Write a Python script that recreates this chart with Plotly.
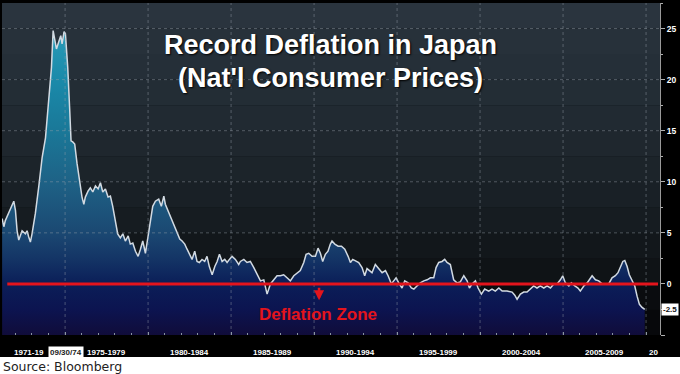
import plotly.graph_objects as go

# ---------------- data ----------------
years = [1971.21, 1971.31, 1971.40, 1971.61, 1971.81, 1971.91, 1972.01, 1972.11, 1972.21, 1972.31,
         1972.41, 1972.61, 1972.71, 1972.81, 1972.91, 1973.01, 1973.21, 1973.42, 1973.62, 1973.82,
         1974.02, 1974.18, 1974.28, 1974.36, 1974.48, 1974.62, 1974.74, 1974.82, 1974.94, 1975.02,
         1975.16, 1975.28, 1975.36, 1975.46, 1975.58, 1975.72, 1975.86, 1976.02, 1976.13, 1976.22,
         1976.39, 1976.52, 1976.67, 1976.83, 1976.99, 1977.13, 1977.27, 1977.43, 1977.59, 1977.73,
         1977.87, 1978.03, 1978.17, 1978.33, 1978.48, 1978.63, 1978.80, 1978.93, 1979.08, 1979.24,
         1979.40, 1979.54, 1979.68, 1979.84, 1980.00, 1980.14, 1980.28, 1980.44, 1980.64, 1980.80,
         1980.95, 1981.04, 1981.21, 1981.34, 1981.55, 1981.75, 1981.91, 1982.05, 1982.21, 1982.35,
         1982.51, 1982.65, 1982.81, 1982.95, 1983.09, 1983.25, 1983.41, 1983.55, 1983.69, 1983.86,
         1984.02, 1984.16, 1984.30, 1984.46, 1984.62, 1984.76, 1984.90, 1985.06, 1985.26, 1985.46,
         1985.56, 1985.77, 1985.96, 1986.16, 1986.37, 1986.57, 1986.77, 1986.97, 1987.17, 1987.37,
         1987.57, 1987.77, 1987.97, 1988.17, 1988.37, 1988.57, 1988.78, 1988.98, 1989.17, 1989.38,
         1989.52, 1989.68, 1989.88, 1990.08, 1990.24, 1990.38, 1990.52, 1990.68, 1990.84, 1990.98,
         1991.08, 1991.25, 1991.45, 1991.65, 1991.85, 1992.05, 1992.19, 1992.33, 1992.53, 1992.69,
         1992.89, 1993.05, 1993.19, 1993.33, 1993.49, 1993.69, 1993.90, 1994.10, 1994.30, 1994.46,
         1994.66, 1994.80, 1994.94, 1995.10, 1995.30, 1995.46, 1995.66, 1995.86, 1996.01, 1996.20,
         1996.40, 1996.61, 1996.81, 1997.01, 1997.21, 1997.35, 1997.51, 1997.71, 1997.87, 1998.01,
         1998.21, 1998.41, 1998.61, 1998.81, 1999.02, 1999.22, 1999.36, 1999.52, 1999.72, 1999.88,
         2000.08, 2000.28, 2000.52, 2000.72, 2000.92, 2001.13, 2001.33, 2001.63, 2001.93, 2002.09,
         2002.23, 2002.43, 2002.63, 2002.83, 2003.03, 2003.23, 2003.43, 2003.63, 2003.84, 2004.04,
         2004.24, 2004.44, 2004.64, 2004.84, 2004.98, 2005.14, 2005.35, 2005.50, 2005.71, 2005.90,
         2006.04, 2006.25, 2006.45, 2006.59, 2006.75, 2006.95, 2007.15, 2007.35, 2007.55, 2007.75,
         2007.95, 2008.15, 2008.31, 2008.45, 2008.60, 2008.72, 2008.86, 2008.99, 2009.16, 2009.32,
         2009.46, 2009.60, 2009.76, 2009.92]

cpi = [6.4, 5.6, 6.2, 7.0, 7.6, 8.1, 7.2, 5.2, 4.3, 4.8,
       5.2, 4.9, 5.2, 4.6, 4.1, 4.9, 6.9, 9.6, 12.4, 14.3,
       17.9, 21.2, 24.8, 24.2, 23.0, 23.7, 24.3, 23.5, 24.7, 24.5,
       21.2, 17.0, 14.0, 13.9, 13.7, 11.8, 10.1, 8.5, 7.8, 8.5,
       9.1, 9.4, 9.0, 9.6, 9.3, 9.9, 9.0, 9.3, 8.5, 8.6,
       7.6, 6.2, 4.9, 4.5, 4.9, 4.2, 4.7, 3.9, 4.0, 3.2,
       2.7, 3.4, 4.2, 3.0, 4.7, 6.5, 7.6, 8.1, 8.3, 7.6,
       8.6, 7.8, 7.1, 6.7, 5.7, 5.0, 4.4, 4.2, 3.9, 3.4,
       2.9, 2.4, 3.2, 2.2, 2.1, 2.4, 2.2, 2.7, 1.7, 0.9,
       1.7, 2.2, 2.9, 2.2, 2.4, 2.1, 2.4, 2.7, 2.4, 1.9,
       2.2, 2.4, 2.1, 2.2, 1.6, 0.9, 0.3, 0.4, -1.0, 0.0,
       0.4, 0.8, 0.8, 0.9, 0.6, 0.3, 0.8, 1.1, 1.3, 2.1,
       2.9, 3.0, 2.7, 2.7, 3.5, 3.0, 2.2, 2.9, 3.2, 3.9,
       4.2, 3.9, 3.7, 3.7, 3.4, 2.7, 2.1, 2.4, 2.2, 2.1,
       1.6, 0.8, 1.5, 1.3, 1.1, 1.9, 1.5, 1.1, 1.3, 0.8,
       0.0, 0.3, 0.6, 0.1, -0.4, 0.3, 0.1, -0.4, -0.5, -0.2,
       0.1, 0.3, 0.4, 0.6, 0.6, 1.6, 2.1, 2.2, 2.4, 2.1,
       1.9, 0.4, 0.1, 0.2, 0.8, 0.3, -0.4, 0.0, 0.3, -0.4,
       -1.0, -0.5, -0.7, -0.5, -0.7, -0.4, -0.7, -0.7, -0.8, -1.1,
       -1.5, -1.0, -0.8, -0.8, -0.5, -0.2, -0.4, -0.2, -0.4, -0.2,
       -0.4, 0.0, 0.0, 0.4, 0.8, 0.1, -0.2, 0.1, -0.2, -0.4,
       -0.7, -0.2, 0.1, 0.4, 0.8, 0.4, 0.3, 0.0, 0.0, 0.0,
       0.6, 0.8, 1.1, 1.6, 2.2, 2.3, 1.7, 0.9, 0.3, -0.2,
       -1.2, -2.0, -2.3, -2.5]

last_value_label = "-2.5"
y_tickvals = [-5, 0, 5, 10, 15, 20, 25]
y_ticktext = ["", "0", "5", "10", "15", "20", "25"]
y_minor = [-2.5, 2.5, 7.5, 12.5, 17.5, 22.5, 27.5]
grid_y = [5, 10, 15, 20, 25]
grid_x = [1975, 1980, 1985, 1990, 1995, 2000, 2005, 2010]
period_labels = ["1975-1979", "1980-1984", "1985-1989", "1990-1994",
                 "1995-1999", "2000-2004", "2005-2009"]
period_centers = [1977.5, 1982.5, 1987.5, 1992.5, 1997.5, 2002.5, 2007.5]
first_label, first_label_x = "1971-19", 1972.85
date_box, date_box_x = "09/30/74", 1975.05
last_partial, last_partial_x = "20", 2010.05

title1 = "Record Deflation in Japan"
title2 = "(Nat'l Consumer Prices)"
zone_text = "Deflation Zone"
source_text = "Source: Bloomberg"

Y0, Y1 = -5, 27.5
X0, X1 = 1971.2, 2010.84

# background band colours, from bottom band (-5..-2.5) up to top (25..27.5)
band_colors = ["#07080b", "#0a0c0f", "#0f1316", "#12171b", "#161c21", "#192026",
               "#1c242a", "#1f272e", "#212a32", "#232d35", "#252f38", "#27313a", "#2a343e"]

RED = "#e4141c"

fig = go.Figure()

# baseline for the area fill (bottom of the chart)
fig.add_trace(go.Scatter(x=years, y=[Y0] * len(years), mode="lines",
                         line=dict(width=0, color="rgba(0,0,0,0)"),
                         hoverinfo="skip", showlegend=False))
fig.add_trace(go.Scatter(
    x=years, y=cpi, mode="lines", fill="tonexty",
    line=dict(color="#d2dae2", width=1.5),
    fillgradient=dict(type="vertical", start=-5, stop=25,
                      colorscale=[[0.0, "#100c3a"], [0.083, "#0c1450"], [0.167, "#0b1e58"],
                                  [0.25, "#143566"], [0.333, "#1b4872"], [0.5, "#1e6286"],
                                  [0.667, "#1a7898"], [0.833, "#1a8aaa"], [1.0, "#2a9cb8"]]),
    showlegend=False, hoverinfo="skip"))

shapes = []
# background bands
for i, c in enumerate(band_colors):
    shapes.append(dict(type="rect", xref="paper", yref="y", x0=0, x1=1,
                       y0=Y0 + 2.5 * i, y1=Y0 + 2.5 * (i + 1),
                       fillcolor=c, line=dict(width=0), layer="below"))
# grid lines above the fill
for gy in grid_y:
    shapes.append(dict(type="line", xref="paper", yref="y", x0=0, x1=1, y0=gy, y1=gy,
                       line=dict(color="rgba(150,160,170,0.45)", width=1, dash="dot"),
                       layer="above"))
for gx in grid_x:
    shapes.append(dict(type="line", xref="x", yref="paper", x0=gx, x1=gx, y0=0, y1=1,
                       line=dict(color="rgba(150,160,170,0.45)", width=1, dash="dot"),
                       layer="above"))
# zero line
shapes.append(dict(type="line", xref="paper", yref="y", x0=0.008, x1=0.997, y0=0, y1=0,
                   line=dict(color=RED, width=3), layer="above"))
# white strip below the black label band
shapes.append(dict(type="rect", xref="paper", yref="paper", x0=-0.01, x1=1.04,
                   y0=-0.0663, y1=-0.14, fillcolor="white", line=dict(width=0), layer="below"))

annotations = [
    dict(text=title1, xref="paper", yref="paper", x=0.4985, y=0.8735, showarrow=False,
         xanchor="center", yanchor="middle",
         font=dict(family="Liberation Sans, Arial", size=27, color="white", weight="bold",
                   shadow="1px 1px 2px #000")),
    dict(text=title2, xref="paper", yref="paper", x=0.4985, y=0.774, showarrow=False,
         xanchor="center", yanchor="middle",
         font=dict(family="Liberation Sans, Arial", size=27, color="white", weight="bold",
                   shadow="1px 1px 2px #000")),
    dict(text=zone_text, x=1990.24, y=-2.95, showarrow=False, xanchor="center", yanchor="middle",
         font=dict(family="Liberation Sans, Arial", size=17, color=RED, weight="bold")),
    dict(text="", x=1990.3, y=-1.6, showarrow=True, ax=0, ay=-14, arrowhead=2, arrowsize=0.8,
         arrowwidth=2.5, arrowcolor=RED),
    dict(text=last_value_label, xref="paper", x=1.0015, y=-2.5, showarrow=False,
         xanchor="left", yanchor="middle", bgcolor="white", borderpad=1,
         font=dict(family="Liberation Sans, Arial", size=8, color="#111", weight="bold")),
    dict(text=source_text, xref="paper", yref="paper", x=-0.002, y=-0.094, showarrow=False,
         xanchor="left", yanchor="middle",
         font=dict(family="DejaVu Sans", size=12.5, color="#222")),
]
lab_y = -0.0515
lab_font = dict(family="Liberation Sans, Arial", size=8, color="white", weight="bold")
for lbl, cx in zip(period_labels, period_centers):
    annotations.append(dict(text=lbl, x=cx, xref="x", yref="paper", y=lab_y, showarrow=False,
                            xanchor="center", yanchor="middle", font=lab_font))
annotations.append(dict(text=first_label, x=first_label_x, xref="x", yref="paper", y=lab_y,
                        showarrow=False, xanchor="center", yanchor="middle", font=lab_font))
annotations.append(dict(text=date_box, x=date_box_x, xref="x", yref="paper", y=lab_y,
                        showarrow=False, xanchor="center", yanchor="middle", bgcolor="white",
                        borderpad=1,
                        font=dict(family="Liberation Sans, Arial", size=8, color="#222",
                                  weight="bold")))
annotations.append(dict(text=last_partial, x=last_partial_x, xref="x", yref="paper", y=lab_y,
                        showarrow=False, xanchor="left", yanchor="middle", font=lab_font))

fig.update_layout(
    width=680, height=374,
    margin=dict(l=2, r=20, t=3, b=39),
    paper_bgcolor="#000000",
    plot_bgcolor="#0a0c10",
    shapes=shapes,
    annotations=annotations,
    showlegend=False,
    xaxis=dict(range=[X0, X1], showgrid=False, zeroline=False, showticklabels=False,
               ticks="inside", ticklen=3, tickcolor="#8894a0", tick0=1975, dtick=5,
               minor=dict(dtick=1, ticks="inside", ticklen=2, tickcolor="#8894a0"),
               showline=False),
    yaxis=dict(range=[Y0, Y1], side="right", showgrid=False, zeroline=False,
               tickmode="array", tickvals=y_tickvals, ticktext=y_ticktext,
               ticks="outside", ticklen=4, tickcolor="#b0b0b0",
               tickfont=dict(family="Liberation Sans, Arial", size=8.5, color="white",
                             weight="bold"),
               minor=dict(tickmode="array", tickvals=y_minor, ticks="outside", ticklen=2,
                          tickcolor="#b0b0b0"),
               showline=True, linecolor="#9a9a9a", linewidth=1),
)

fig.write_html("out.html", config={"displayModeBar": False},
               post_script="document.body.style.margin='0';")
